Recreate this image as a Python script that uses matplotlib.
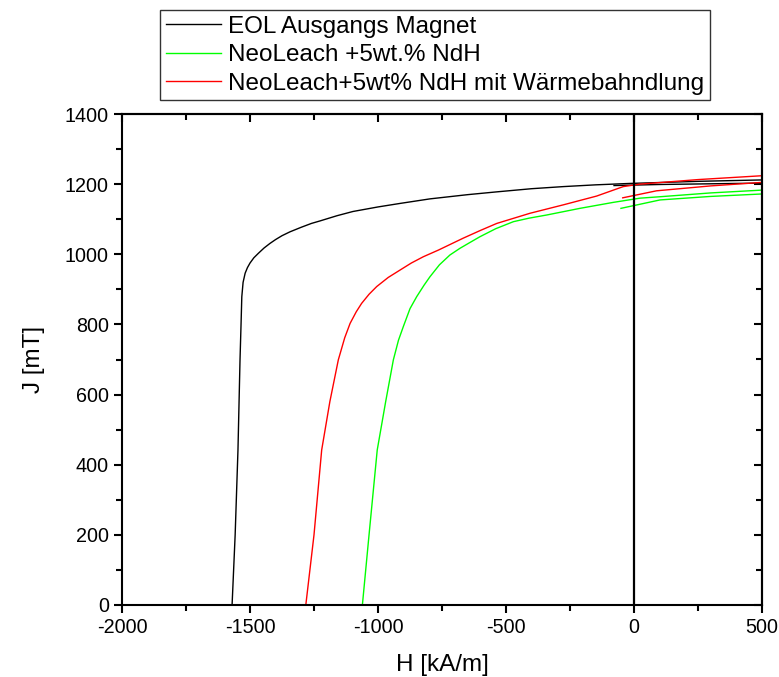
import matplotlib
matplotlib.use("Agg")
import matplotlib.pyplot as plt
from matplotlib.ticker import MultipleLocator

plt.rcParams['font.family'] = ['Liberation Sans', 'DejaVu Sans']
plt.rcParams['axes.unicode_minus'] = False

labels = ["EOL Ausgangs Magnet", "NeoLeach +5wt.% NdH", "NeoLeach+5wt% NdH mit Wärmebahndlung"]
colors = ["#000000", "#00ff00", "#ff0000"]

# EOL Ausgangs Magnet
eol_H = [-1570, -1558, -1547, -1539, -1535, -1532, -1527, -1519, -1510, -1500, -1485, -1467, -1445,
         -1422, -1400, -1375, -1344, -1300, -1260, -1227, -1160, -1098, -1000, -914, -797, -650, -536,
         -400, -276, -150, -16, 250, 500]
eol_J = [0, 200, 442, 699, 800, 879, 920, 946, 962, 975, 990, 1003, 1018,
         1031, 1042, 1053, 1064, 1077, 1088, 1095, 1110, 1122, 1135, 1145, 1158, 1170, 1178,
         1187, 1193, 1198, 1202, 1208, 1212]
eol_rec_H = [-78, 100, 300, 500]
eol_rec_J = [1196, 1199, 1201, 1203]

# NeoLeach +5wt.% NdH
neo_H = [-1061, -1035, -1003, -970, -940, -920, -901, -875, -849, -820, -797, -760, -719, -680,
         -640, -602, -540, -471, -410, -341, -211, -81, 23, 100, 300, 500]
neo_J = [0, 200, 442, 580, 699, 755, 794, 845, 879, 912, 936, 970, 998, 1017,
         1034, 1050, 1073, 1093, 1103, 1112, 1131, 1148, 1160, 1164, 1175, 1183]
neo_rec_H = [-51, 102, 300, 500]
neo_rec_J = [1131, 1155, 1165, 1172]

# NeoLeach+5wt% NdH mit Wärmebahndlung
wb_H = [-1282, -1250, -1220, -1188, -1155, -1130, -1109, -1085, -1064, -1035, -1005, -960, -914,
        -870, -823, -764, -667, -600, -536, -406, -276, -146, -42, 23, 250, 500]
wb_J = [0, 200, 442, 580, 699, 762, 803, 836, 860, 886, 908, 934, 955,
        975, 993, 1012, 1046, 1068, 1088, 1117, 1141, 1166, 1193, 1200, 1213, 1224]
wb_rec_H = [-44, 88, 300, 500]
wb_rec_J = [1161, 1181, 1195, 1205]

fig = plt.figure(figsize=(7.79, 6.77), dpi=100)
ax = fig.add_axes([122/779, 1-605/677, (762-122)/779, (605-114)/677])

lw = 1.0
l1, = ax.plot(eol_H, eol_J, color=colors[0], lw=lw)
ax.plot(eol_rec_H, eol_rec_J, color=colors[0], lw=lw)
l2, = ax.plot(neo_H, neo_J, color=colors[1], lw=lw)
ax.plot(neo_rec_H, neo_rec_J, color=colors[1], lw=lw)
l3, = ax.plot(wb_H, wb_J, color=colors[2], lw=lw)
ax.plot(wb_rec_H, wb_rec_J, color=colors[2], lw=lw)

ax.axvline(0, color='black', lw=1.6)

ax.set_xlim(-2000, 500)
ax.set_ylim(0, 1400)
ax.xaxis.set_major_locator(MultipleLocator(500))
ax.xaxis.set_minor_locator(MultipleLocator(250))
ax.yaxis.set_major_locator(MultipleLocator(200))
ax.yaxis.set_minor_locator(MultipleLocator(100))

for s in ax.spines.values():
    s.set_linewidth(1.5)

ax.tick_params(which='both', direction='out', width=1.5, labelsize=14.2, top=False, right=False)
ax.tick_params(which='major', length=6)
ax.tick_params(which='minor', length=4)
axt = ax.secondary_xaxis('top')
axt.xaxis.set_major_locator(MultipleLocator(500))
axt.xaxis.set_minor_locator(MultipleLocator(250))
axt.tick_params(which='both', direction='in', width=1.5, labeltop=False)
axt.tick_params(which='major', length=6)
axt.tick_params(which='minor', length=4)
axt.spines['top'].set_linewidth(1.5)
axr = ax.secondary_yaxis('right')
axr.yaxis.set_major_locator(MultipleLocator(200))
axr.yaxis.set_minor_locator(MultipleLocator(100))
axr.tick_params(which='both', direction='in', width=1.5, labelright=False)
axr.tick_params(which='major', length=6)
axr.tick_params(which='minor', length=4)
axr.spines['right'].set_linewidth(1.5)

ax.set_xlabel("H [kA/m]", fontsize=17.5, labelpad=12)
ax.set_ylabel("J [mT]", fontsize=17.5, labelpad=14)

leg = fig.legend([l1, l2, l3], labels, loc='upper left',
                 bbox_to_anchor=(160/779, 1-10/677), bbox_transform=fig.transFigure,
                 fontsize=17.5, frameon=True, fancybox=False, borderaxespad=0,
                 borderpad=0.24, labelspacing=0.26, handlelength=2.25, handletextpad=0.3)
leg.get_frame().set_edgecolor('black')
leg.get_frame().set_linewidth(1.0)

fig.savefig("out.png", dpi=100)
